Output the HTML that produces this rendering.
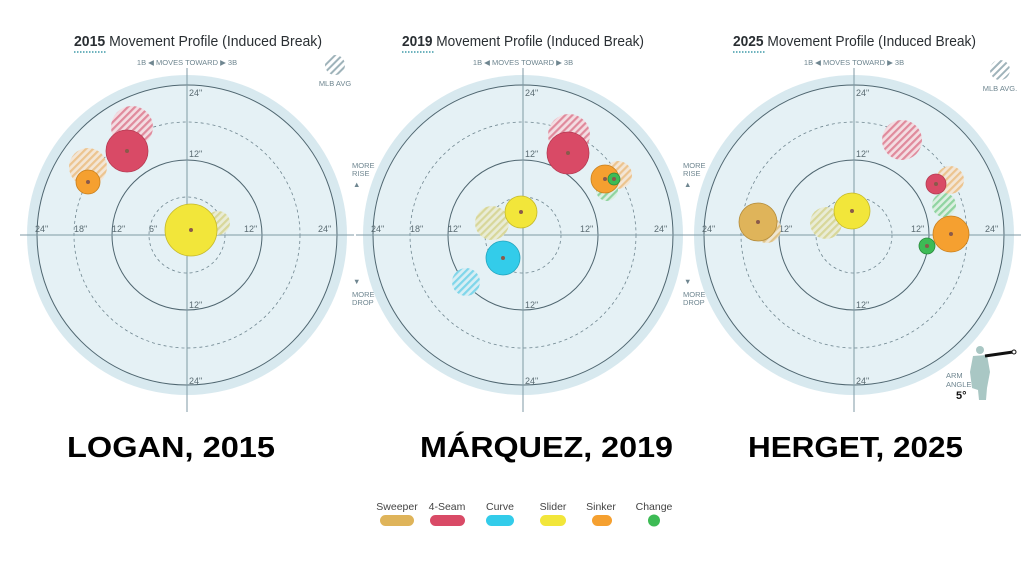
<!DOCTYPE html>
<html><head><meta charset="utf-8"><style>
html,body{margin:0;padding:0;background:#fff;}
svg{display:block;font-family:"Liberation Sans",sans-serif;}
</style></head><body>
<svg width="1024" height="576" viewBox="0 0 1024 576" xmlns="http://www.w3.org/2000/svg">
<defs>
<pattern id="hr" width="5" height="5" patternUnits="userSpaceOnUse" patternTransform="rotate(45)"><rect width="5" height="5" fill="#f3dde2"/><rect width="2.2" height="5" fill="#e08a9c"/></pattern>
<pattern id="ho" width="5" height="5" patternUnits="userSpaceOnUse" patternTransform="rotate(45)"><rect width="5" height="5" fill="#f3e6d6"/><rect width="2.2" height="5" fill="#ecc48f"/></pattern>
<pattern id="hy" width="5" height="5" patternUnits="userSpaceOnUse" patternTransform="rotate(45)"><rect width="5" height="5" fill="#e9ecd6"/><rect width="2.2" height="5" fill="#d8d79a"/></pattern>
<pattern id="hg" width="5" height="5" patternUnits="userSpaceOnUse" patternTransform="rotate(45)"><rect width="5" height="5" fill="#dcefe2"/><rect width="2.2" height="5" fill="#8fd4a0"/></pattern>
<pattern id="hc" width="5" height="5" patternUnits="userSpaceOnUse" patternTransform="rotate(45)"><rect width="5" height="5" fill="#d8eef4"/><rect width="2.2" height="5" fill="#7fd6ea"/></pattern>
<pattern id="hs" width="5" height="5" patternUnits="userSpaceOnUse" patternTransform="rotate(45)"><rect width="5" height="5" fill="#efe6d2"/><rect width="2.2" height="5" fill="#e0c488"/></pattern>
<pattern id="hk" width="5" height="5" patternUnits="userSpaceOnUse" patternTransform="rotate(45)"><rect width="5" height="5" fill="#fff"/><rect width="2" height="5" fill="#9fb3ba"/></pattern>
<g id="base">
<circle r="160" fill="#d8e9ef"/>
<circle r="150" fill="#e5f1f5" stroke="#4f6670" stroke-width="1"/>
<circle r="113" fill="none" stroke="#6f8690" stroke-width="0.8" stroke-dasharray="3,3"/>
<circle r="75" fill="none" stroke="#4f6670" stroke-width="1"/>
<circle r="38" fill="none" stroke="#6f8690" stroke-width="0.8" stroke-dasharray="3,3"/>
<line x1="-167" y1="0" x2="167" y2="0" stroke="#7f9aa4" stroke-width="1"/>
<line x1="0" y1="-167" x2="0" y2="177" stroke="#7f9aa4" stroke-width="1"/>
<g font-size="9" fill="#5a6b72">
<text x="2" y="-139">24"</text><text x="2" y="-78">12"</text>
<text x="2" y="73">12"</text><text x="2" y="149">24"</text>
<text x="-152" y="-3">24"</text><text x="-113" y="-3">18"</text>
<text x="-75" y="-3">12"</text><text x="-38" y="-3">6"</text>
<text x="57" y="-3">12"</text><text x="131" y="-3">24"</text>
</g>
<text x="0" y="-170" font-size="7.5" fill="#6f8690" text-anchor="middle">1B ◀  MOVES TOWARD  ▶ 3B</text>
</g>
</defs>

<!-- Panel 1 -->
<use href="#base" x="187" y="235"/>
<text x="74" y="46" font-size="14.5" fill="#2a2f33" textLength="248" lengthAdjust="spacingAndGlyphs"><tspan font-weight="bold">2015</tspan> Movement Profile (Induced Break)</text>
<line x1="74" y1="52" x2="106" y2="52" stroke="#3f9aa8" stroke-width="1.5" stroke-dasharray="1.5,1.5"/>
<g stroke-width="0.8">
<circle cx="132" cy="127" r="21" fill="url(#hr)"/>
<circle cx="127" cy="151" r="21" fill="#d94a66" stroke="#b53a52"/>
<circle cx="88" cy="167" r="19" fill="url(#ho)"/>
<circle cx="88" cy="182" r="12" fill="#f5a030" stroke="#c87f1c"/>
<circle cx="218" cy="223" r="12" fill="url(#hy)"/>
<circle cx="191" cy="230" r="26" fill="#f2e63a" stroke="#c4b82a"/>
</g>
<g fill="#8a5a4a"><circle cx="127" cy="151" r="2"/><circle cx="88" cy="182" r="2"/><circle cx="191" cy="230" r="2"/></g>
<circle cx="335" cy="65" r="10" fill="url(#hk)"/>
<text x="335" y="86" font-size="7.5" fill="#6f8690" text-anchor="middle">MLB AVG</text>
<g font-size="7.5" fill="#6f8690">
<text x="352" y="168">MORE</text><text x="352" y="176">RISE</text><text x="353" y="187">▲</text>
<text x="353" y="284">▼</text><text x="352" y="297">MORE</text><text x="352" y="305">DROP</text>
<text x="683" y="168">MORE</text><text x="683" y="176">RISE</text><text x="684" y="187">▲</text>
<text x="684" y="284">▼</text><text x="683" y="297">MORE</text><text x="683" y="305">DROP</text>
</g>

<!-- Panel 2 -->
<use href="#base" x="523" y="235"/>
<text x="402" y="46" font-size="14.5" fill="#2a2f33" textLength="242" lengthAdjust="spacingAndGlyphs"><tspan font-weight="bold">2019</tspan> Movement Profile (Induced Break)</text>
<line x1="402" y1="52" x2="434" y2="52" stroke="#3f9aa8" stroke-width="1.5" stroke-dasharray="1.5,1.5"/>
<g stroke-width="0.8">
<circle cx="569" cy="135" r="21" fill="url(#hr)"/>
<circle cx="568" cy="153" r="21" fill="#d94a66" stroke="#b53a52"/>
<circle cx="618" cy="175" r="14" fill="url(#ho)"/>
<circle cx="607" cy="190" r="11" fill="url(#hg)"/>
<circle cx="605" cy="179" r="14" fill="#f5a030" stroke="#c87f1c"/>
<circle cx="614" cy="179" r="6" fill="#3dbb55" stroke="#2a8a3c"/>
<circle cx="492" cy="223" r="17" fill="url(#hy)"/>
<circle cx="521" cy="212" r="16" fill="#f2e63a" stroke="#c4b82a"/>
<circle cx="466" cy="282" r="14" fill="url(#hc)"/>
<circle cx="503" cy="258" r="17" fill="#33ccea" stroke="#22a4bd"/>
</g>
<g fill="#8a5a4a"><circle cx="568" cy="153" r="2"/><circle cx="605" cy="179" r="2"/><circle cx="614" cy="179" r="2"/><circle cx="521" cy="212" r="2"/><circle cx="503" cy="258" r="2"/></g>

<!-- Panel 3 -->
<use href="#base" x="854" y="235"/>
<text x="733" y="46" font-size="14.5" fill="#2a2f33" textLength="243" lengthAdjust="spacingAndGlyphs"><tspan font-weight="bold">2025</tspan> Movement Profile (Induced Break)</text>
<line x1="733" y1="52" x2="765" y2="52" stroke="#3f9aa8" stroke-width="1.5" stroke-dasharray="1.5,1.5"/>
<g stroke-width="0.8">
<circle cx="902" cy="140" r="20" fill="url(#hr)"/>
<circle cx="950" cy="180" r="14" fill="url(#ho)"/>
<circle cx="936" cy="184" r="10" fill="#d94a66" stroke="#b53a52"/>
<circle cx="944" cy="205" r="12" fill="url(#hg)"/>
<circle cx="767" cy="229" r="14" fill="url(#hs)"/>
<circle cx="758" cy="222" r="19" fill="#dfb45a" stroke="#b38c3c"/>
<circle cx="826" cy="223" r="16" fill="url(#hy)"/>
<circle cx="852" cy="211" r="18" fill="#f2e63a" stroke="#c4b82a"/>
<circle cx="951" cy="234" r="18" fill="#f5a030" stroke="#c87f1c"/>
<circle cx="927" cy="246" r="8" fill="#3dbb55" stroke="#2a8a3c"/>
</g>
<g fill="#8a5a4a"><circle cx="936" cy="184" r="2"/><circle cx="758" cy="222" r="2"/><circle cx="852" cy="211" r="2"/><circle cx="951" cy="234" r="2"/><circle cx="927" cy="246" r="2"/></g>
<circle cx="1000" cy="70" r="10" fill="url(#hk)"/>
<text x="1000" y="91" font-size="7.5" fill="#6f8690" text-anchor="middle">MLB AVG.</text>
<g fill="#a9c7c4">
<circle cx="980" cy="350" r="4"/>
<path d="M973 356 L987 355 L990 372 L987 388 L986 400 L979 400 L978 390 L972 388 L970 372 Z"/>
</g>
<line x1="985" y1="356" x2="1013" y2="352" stroke="#111" stroke-width="3"/>
<circle cx="1014" cy="352" r="2" fill="#fff" stroke="#111" stroke-width="1"/>
<text x="946" y="378" font-size="7.5" fill="#6f8690">ARM</text>
<text x="946" y="387" font-size="7.5" fill="#6f8690">ANGLE</text>
<text x="956" y="399" font-size="11" font-weight="bold" fill="#111">5°</text>

<g font-size="29" font-weight="bold" fill="#000">
<text x="67" y="457" textLength="208" lengthAdjust="spacingAndGlyphs">LOGAN, 2015</text>
<text x="420" y="457" textLength="253" lengthAdjust="spacingAndGlyphs">MÁRQUEZ, 2019</text>
<text x="748" y="457" textLength="215" lengthAdjust="spacingAndGlyphs">HERGET, 2025</text>
</g>

<g font-size="10.5" fill="#444" text-anchor="middle">
<text x="397" y="510">Sweeper</text><text x="447" y="510">4-Seam</text><text x="500" y="510">Curve</text>
<text x="553" y="510">Slider</text><text x="601" y="510">Sinker</text><text x="654" y="510">Change</text>
</g>
<rect x="380" y="515" width="34" height="11" rx="5.5" fill="#dfb45a"/>
<rect x="430" y="515" width="35" height="11" rx="5.5" fill="#d94a66"/>
<rect x="486" y="515" width="28" height="11" rx="5.5" fill="#33ccea"/>
<rect x="540" y="515" width="26" height="11" rx="5.5" fill="#f2e63a"/>
<rect x="592" y="515" width="20" height="11" rx="5.5" fill="#f5a030"/>
<circle cx="654" cy="520.5" r="6" fill="#3dbb55"/>
</svg>
</body></html>
